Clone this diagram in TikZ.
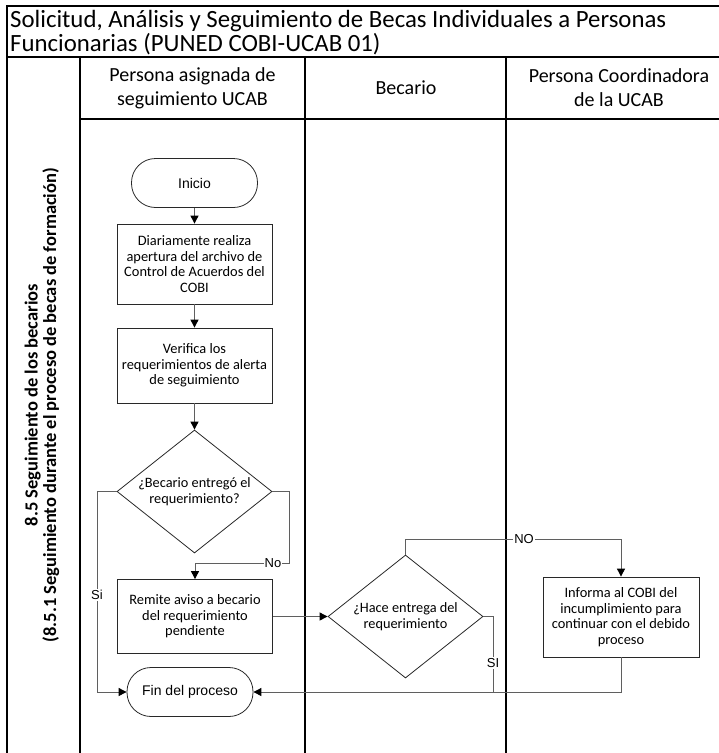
\documentclass[tikz,border=0pt]{standalone}
\usepackage{fontspec}
\setmainfont{Carlito}
\newfontfamily\arialf{Liberation Sans}
\usetikzlibrary{shapes.geometric,arrows.meta}
\definecolor{connc}{RGB}{95,95,95}
\definecolor{shapec}{RGB}{40,40,40}
\begin{document}
\begin{tikzpicture}[x=1pt,y=-1pt,
 frame/.style={line width=1.3pt,black},
 proc/.style={draw=shapec,line width=0.8pt,minimum width=155pt,align=center,font=\fontsize{14.4}{15.5}\selectfont,inner sep=2pt},
 term/.style={draw=shapec,line width=0.8pt,rounded corners=24pt,minimum width=126pt,minimum height=49pt,font=\arialf\fontsize{14}{16}\selectfont},
 dec/.style={draw=shapec,line width=0.8pt,diamond,minimum width=155pt,minimum height=123pt,inner sep=0pt},
 dectext/.style={align=center,font=\fontsize{14.3}{16.5}\selectfont,inner sep=0pt},
 conn/.style={draw=connc,line width=0.9pt},
 arr/.style={conn,-{Triangle[length=8pt,width=8pt,color=black]}},
 lbl/.style={fill=white,inner sep=1pt,font=\arialf\fontsize{13}{15}\selectfont},
 hdr/.style={align=center,font=\fontsize{20}{24}\selectfont},
 ttl/.style={anchor=base west,inner sep=0pt,font=\fontsize{24.8}{25}\selectfont},
]
\useasboundingbox (0,0) rectangle (719,753);
% frame
\draw[frame] (7,753) -- (7,6) -- (719,6);
\draw[frame] (7,57) -- (719,57);
\draw[frame] (80,119) -- (719,119);
\draw[frame] (80,57) -- (80,753);
\draw[frame] (305,57) -- (305,753);
\draw[frame] (506,57) -- (506,753);
% title
\node[ttl] (t1) at (10,27) {Solicitud, Análisis y Seguimiento de Becas Individuales a Personas};
\node[ttl] (t2) at (10,51) {Funcionarias (PUNED COBI-UCAB 01)};
% headers
\node[hdr] (h1) at (192.5,88) {Persona asignada de\\seguimiento UCAB};
\node[hdr] (h2) at (406,88) {Becario};
\node[hdr] (h3) at (619,88) {Persona Coordinadora\\de la UCAB};
% lane title
\node[rotate=90,align=center,font=\bfseries\fontsize{18.5}{18.5}\selectfont] (lt) at (42,405) {8.5 Seguimiento de los becarios\\(8.5.1 Seguimiento durante el proceso de becas de formación)};
% nodes
\node[term] (ini) at (194.5,183) {Inicio};
\node[proc,minimum height=80pt] (b1) at (194.5,264) {Diariamente realiza\\apertura del archivo de\\Control de Acuerdos del\\COBI};
\node[proc,minimum height=75pt] (b2) at (194.5,365.5) {Verifica los\\requerimientos de alerta\\de seguimiento};
\node[dec] (d1) at (194.5,491.5) {};
\node[dectext] (d1t) at (d1.center) {¿Becario entregó el\\requerimiento?};
\node[proc,minimum height=74pt] (b3) at (195,616.5) {Remite aviso a becario\\del requerimiento\\pendiente};
\node[term] (fin) at (190,692) {Fin del proceso};
\node[dec] (d2) at (405.5,616.5) {};
\node[dectext] (d2t) at (d2.center) {¿Hace entrega del\\requerimiento};
\node[proc,minimum height=80pt,minimum width=156pt] (b4) at (621,617) {Informa al COBI del\\incumplimiento para\\continuar con el debido\\proceso};
% coordinates
\coordinate (siL) at (97,692);
\coordinate (noR) at (289,563);
\coordinate (siR) at (493,692);
\coordinate (noT) at (621,539);
% connectors
\draw[arr] (ini) -- (b1);
\draw[arr] (b1) -- (b2);
\draw[arr] (b2) -- (d1);
\draw[arr] (d1.west) -- (d1.west -| siL) -- (siL) -- (fin.west);
\draw[arr] (d1.east) -- (d1.east -| noR) -- (noR) -- (b3.north |- noR) -- (b3.north);
\draw[arr] (b3.east) -- (d2.west);
\draw[arr] (d2.east) -- (d2.east -| siR) -- (siR) -- (fin.east);
\draw[arr] (d2.north) -- (d2.north |- noT) -- (noT) -- (b4.north);
\draw[conn] (b4.south) -- (b4.south |- siR) -- (siR);
% labels
\node[lbl] (lsi) at (97,595) {Si};
\node[lbl] (lno) at (273,563) {No};
\node[lbl] (lsi2) at (493,663) {SI};
\node[lbl] (lno2) at (524,539) {NO};
\end{tikzpicture}
\end{document}
